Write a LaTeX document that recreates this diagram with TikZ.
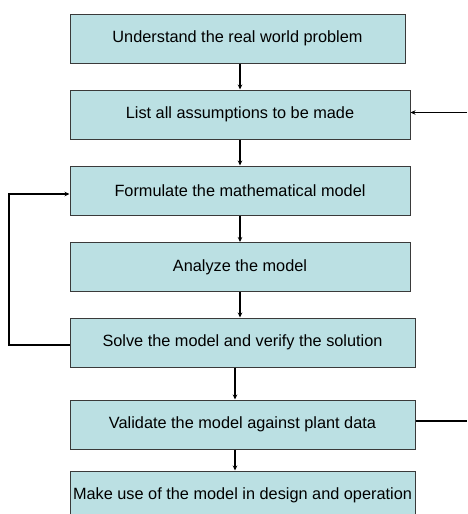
\documentclass[tikz,border=0pt]{standalone}
\usepackage{fontspec}
\setmainfont{Liberation Sans}
\usetikzlibrary{arrows.meta,calc}
\definecolor{boxfill}{HTML}{BBE0E3}
\definecolor{boxedge}{HTML}{3A3A3A}
\begin{document}
\begin{tikzpicture}[x=1pt,y=-1pt,
  stepbox/.style={draw=boxedge,fill=boxfill,line width=1pt,minimum height=49pt,
    inner sep=0pt,font=\fontsize{16.3}{19}\selectfont},
  link/.style={line width=1.4pt,-{Stealth[length=5pt,width=4.5pt]}},
  plain/.style={line width=1.4pt}]
\clip (0,0) rectangle (467,514);
\node[stepbox,minimum width=335pt] (b1) at (237.5,38.5) {Understand the real world problem};
\node[stepbox,minimum width=340pt] (b2) at (240,114.5) {List all assumptions to be made};
\node[stepbox,minimum width=340pt] (b3) at (240,190.5) {Formulate the mathematical model};
\node[stepbox,minimum width=340pt] (b4) at (240,267) {Analyze the model};
\node[stepbox,minimum width=345pt] (b5) at (242.5,342.5) {Solve the model and verify the solution};
\node[stepbox,minimum width=345pt] (b6) at (242.5,424.5) {Validate the model against plant data};
\node[stepbox,minimum width=345pt] (b7) at (242.5,495.5) {Make use of the model in design and operation};
% main chain
\draw[link] (b1.south -| b2.north) -- (b2.north);
\draw[link] (b2.south) -- (b3.north);
\draw[link] (b3.south) -- (b4.north);
\draw[link] (b4.south) -- (b4.south |- b5.north);
\draw[link] ([xshift=-7.5pt]b5.south) -- ([xshift=-7.5pt]b6.north);
\draw[link] ([xshift=-7.5pt]b6.south) -- ([xshift=-7.5pt]b7.north);
% feedback loop from solving back to formulation
\coordinate (loopbot) at (9,345);
\coordinate (looptop) at (9,194);
\draw[link] (b5.west |- loopbot) -- (loopbot) -- (looptop) -- (b3.west |- looptop);
% side connectors on the right
\coordinate (inR) at (467,112.5);
\draw[link] (inR) -- (b2.east |- inR);
\coordinate (outR) at (467,421);
\draw[plain] (b6.east |- outR) -- (outR);
\end{tikzpicture}
\end{document}
